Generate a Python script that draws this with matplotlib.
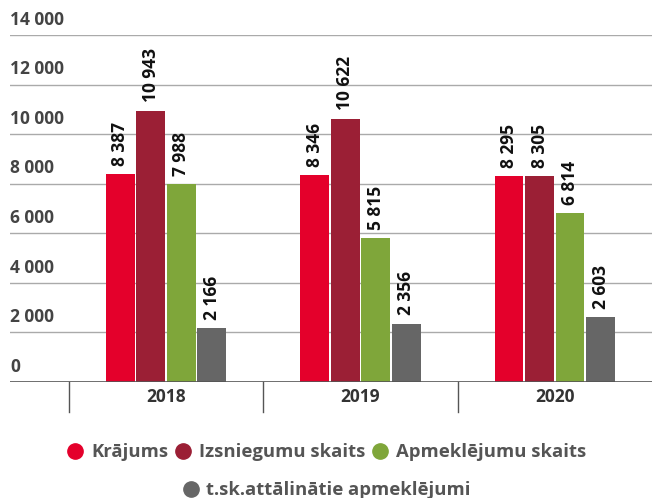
import matplotlib
matplotlib.use("Agg")
import matplotlib.pyplot as plt
from matplotlib.lines import Line2D
import numpy as np

plt.rcParams["font.family"] = ["Open Sans", "DejaVu Sans"]

# data
years = ["2018", "2019", "2020"]
series_names = ["Krājums", "Izsniegumu skaits", "Apmeklējumu skaits",
                "t.sk.attālinātie apmeklējumi"]
krajums = [8387, 8346, 8295]
izsniegumi = [10943, 10622, 8305]
apmeklejumi = [7988, 5815, 6814]
attalinatie = [2166, 2356, 2603]
yticks = [0, 2000, 4000, 6000, 8000, 10000, 12000, 14000]

colors = ["#E4002B", "#9B1F35", "#7FA63A", "#666666"]
values = [krajums, izsniegumi, apmeklejumi, attalinatie]

def fmt(v):
    return f"{v:,}".replace(",", " ")

fig = plt.figure(figsize=(6.52, 4.98), dpi=100)
ax = fig.add_axes([10 / 652, 116 / 498, 642 / 652, (382 - 35) / 498])

x = np.arange(len(years))
step = 0.157
width = 0.148
offsets = [-1.5, -0.5, 0.5, 1.5]

for vals, col, off in zip(values, colors, offsets):
    bars = ax.bar(x + off * step, vals, width=width, color=col, zorder=3)
    for b, v in zip(bars, vals):
        ax.annotate(fmt(v), (b.get_x() + b.get_width() / 2, v),
                    xytext=(0, 6), textcoords="offset points",
                    rotation=90, ha="center", va="bottom",
                    fontsize=12.5, fontweight="bold", color="#111111",
                    zorder=4)

ax.set_xlim(-0.803, 2.5)
ax.set_ylim(0, 14000)

# gridlines + tick labels above them
for t in yticks:
    if t == 0:
        continue
    ax.axhline(t, color="#aaaaaa", lw=1, zorder=1)
for t in yticks:
    ax.annotate(fmt(t), (0, t), xycoords=("axes fraction", "data"),
                xytext=(0, 4.5), textcoords="offset points",
                ha="left", va="bottom", fontsize=12.5, fontweight="bold",
                color="#444444", annotation_clip=False)
ax.axhline(0, color="#555555", lw=1.2, zorder=5)

# category separators below the axis
for sep in [-0.5, 0.5, 1.5]:
    ax.plot([sep, sep], [0, -1200], color="#555555", lw=1, clip_on=False)
for xi, yr in zip(x, years):
    ax.text(xi, -600, yr, ha="center", va="center", fontsize=12.5,
            fontweight="bold", color="#333333")

ax.set_xticks([])
ax.set_yticks([])
for s in ax.spines.values():
    s.set_visible(False)

# legend in two centered rows
handles = [Line2D([], [], marker="o", ls="", markersize=11,
                  markerfacecolor=c, markeredgecolor=c) for c in colors]
leg_kw = dict(frameon=False, handletextpad=0.35, columnspacing=0.3,
              prop={"size": 13.3, "weight": "bold"}, labelcolor="#555555",
              handlelength=1.0, borderaxespad=0)
leg1 = fig.legend(handles[:3], series_names[:3], ncol=3, loc="center",
                  bbox_to_anchor=(0.5, 1 - 452 / 498), **leg_kw)
leg2 = fig.legend(handles[3:], series_names[3:], ncol=1, loc="center",
                  bbox_to_anchor=(0.5, 1 - 490 / 498), **leg_kw)

fig.savefig("out.png", dpi=100)
